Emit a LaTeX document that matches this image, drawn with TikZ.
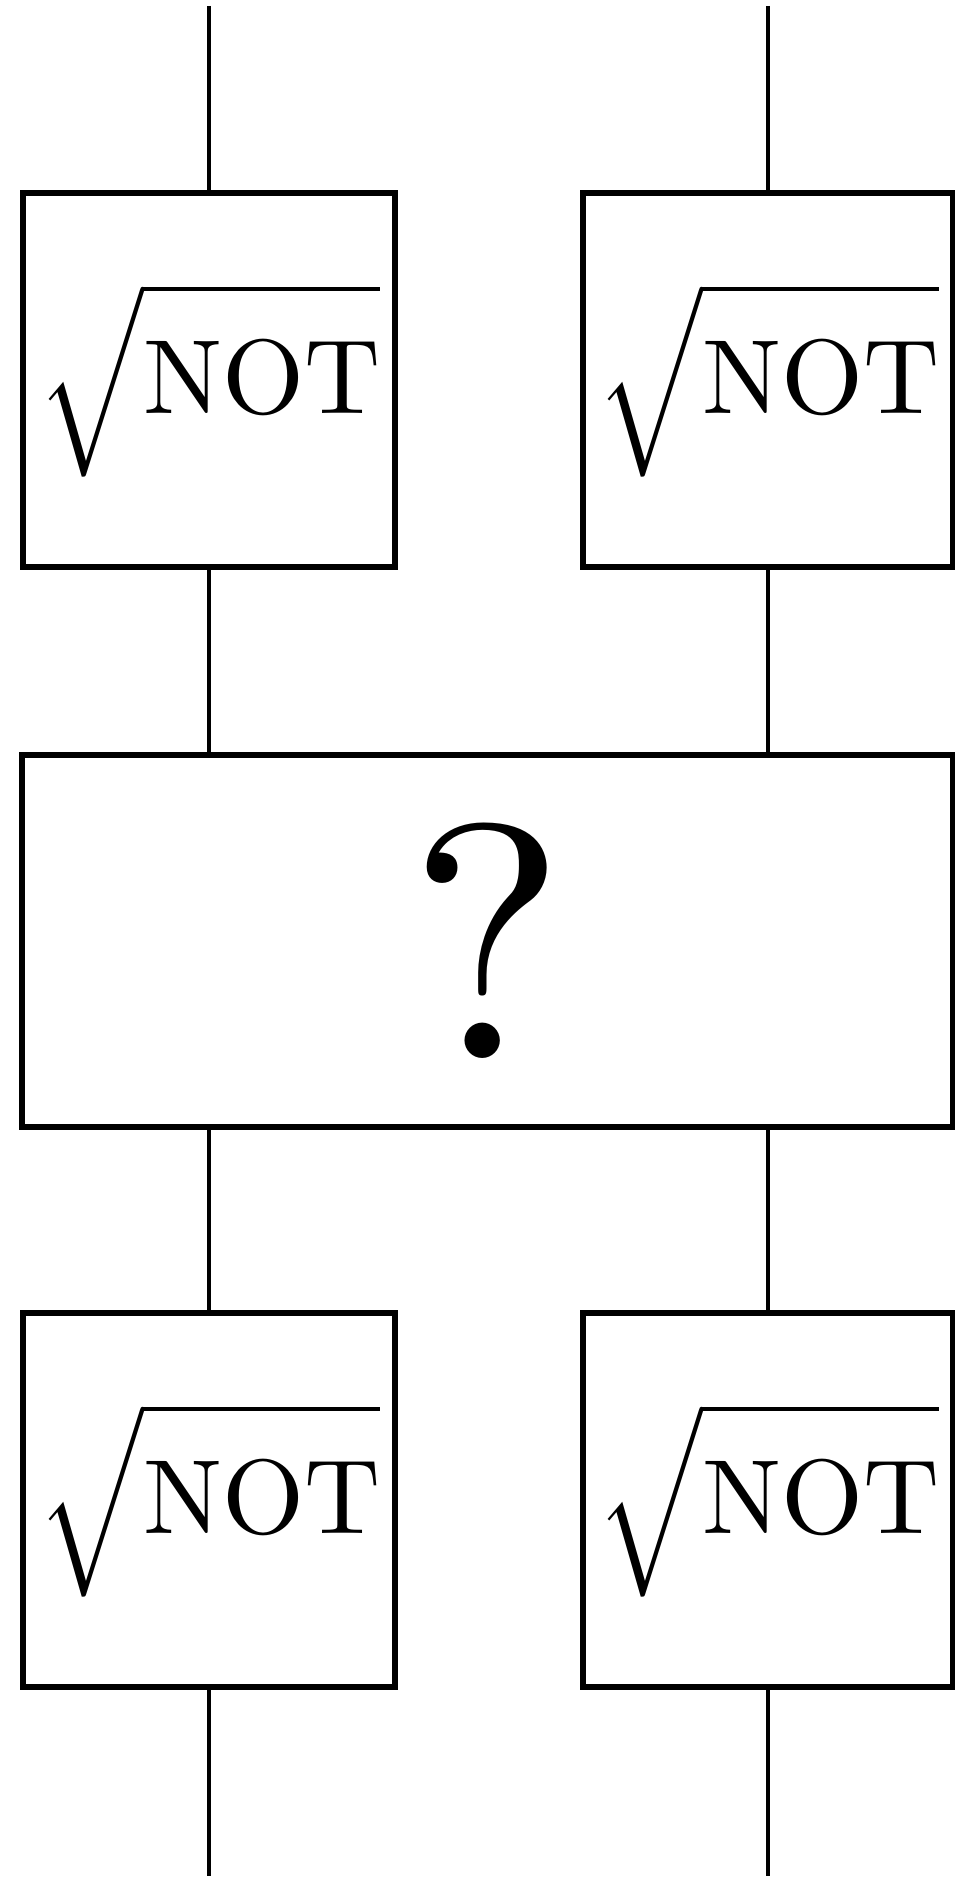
\documentclass[tikz,border=0pt]{standalone}
\usepackage{graphicx}
\usetikzlibrary{positioning}

\begin{document}
\begin{tikzpicture}[
  x=0.01cm, y=-0.01cm,
  gbox/.style={rectangle, draw=black, line width=1.6pt, fill=white,
               minimum width=3.72cm, minimum height=3.74cm, inner sep=0pt},
  mbox/.style={gbox, minimum width=9.31cm, minimum height=3.72cm},
  wire/.style={line width=1.2pt, black}
]
\useasboundingbox (0,0) rectangle (954,1885);

\node[gbox] (notA) at (209,380)  {\scalebox{3}{$\sqrt{\vphantom{\big|}\mathrm{NOT}}$}};
\node[gbox, minimum width=3.70cm] (notB) at (768,380)  {\scalebox{3}{$\sqrt{\vphantom{\big|}\mathrm{NOT}}$}};
\node[mbox] (mix)  at (487.5,941) {\scalebox{9.5}{?}};
\node[gbox] (notC) at (209,1500) {\scalebox{3}{$\sqrt{\vphantom{\big|}\mathrm{NOT}}$}};
\node[gbox, minimum width=3.70cm] (notD) at (768,1500) {\scalebox{3}{$\sqrt{\vphantom{\big|}\mathrm{NOT}}$}};

\coordinate (inA)  at (209,6);
\coordinate (inB)  at (768,6);
\coordinate (outA) at (209,1876);
\coordinate (outB) at (768,1876);

\draw[wire] (inA) -- (notA.north);
\draw[wire] (inB) -- (notB.north);
\draw[wire] (notA.south) -- (notA.south |- mix.north);
\draw[wire] (notB.south) -- (notB.south |- mix.north);
\draw[wire] (notC.north |- mix.south) -- (notC.north);
\draw[wire] (notD.north |- mix.south) -- (notD.north);
\draw[wire] (notC.south) -- (outA);
\draw[wire] (notD.south) -- (outB);
\end{tikzpicture}
\end{document}
